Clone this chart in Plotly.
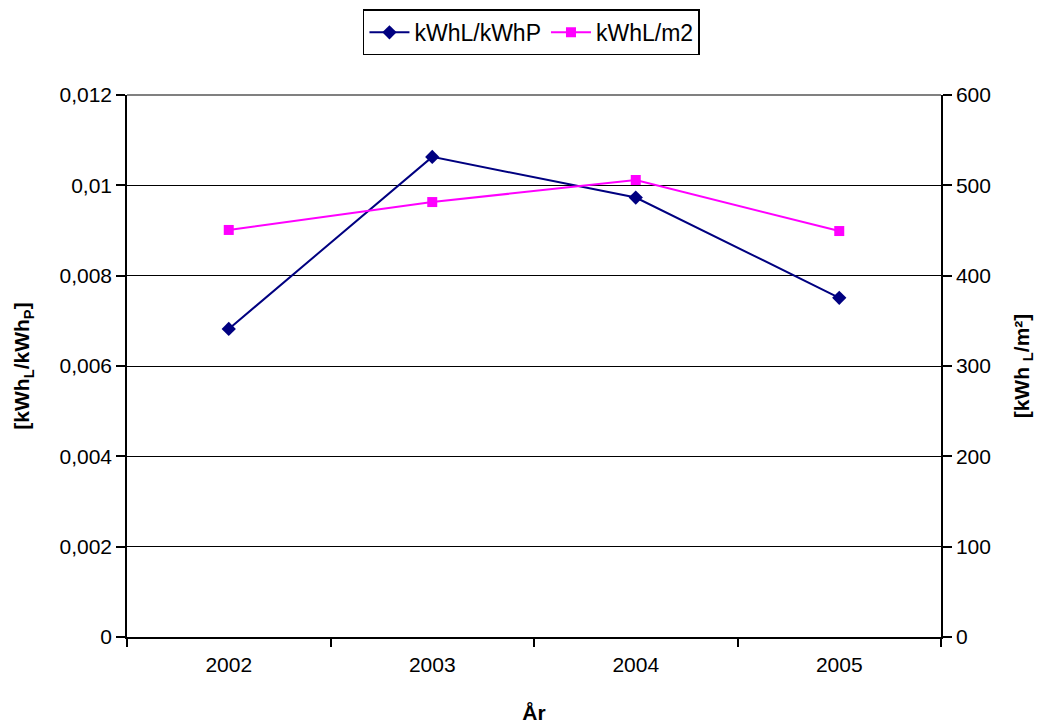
import plotly.graph_objects as go

years = ["2002", "2003", "2004", "2005"]
kwhl_kwhp = [0.00682, 0.01063, 0.00973, 0.00751]
kwhl_m2 = [450.6, 481.5, 505.9, 449.4]

left_ticks = [0, 0.002, 0.004, 0.006, 0.008, 0.010, 0.012]
left_labels = ["0", "0,002", "0,004", "0,006", "0,008", "0,01", "0,012"]
right_ticks = [0, 100, 200, 300, 400, 500, 600]

FS = 21
fig = go.Figure()
fig.add_trace(go.Scatter(
    x=years, y=kwhl_kwhp, name="kWhL/kWhP", mode="lines+markers",
    line=dict(color="#000080", width=2),
    marker=dict(symbol="diamond", size=11, color="#000080"),
    yaxis="y"))
fig.add_trace(go.Scatter(
    x=years, y=kwhl_m2, name="kWhL/m2", mode="lines+markers",
    line=dict(color="#FF00FF", width=2),
    marker=dict(symbol="square", size=10, color="#FF00FF"),
    yaxis="y2"))

font = dict(family="Arial, 'Liberation Sans', sans-serif", size=FS, color="black")

fig.update_layout(
    width=1038, height=724,
    margin=dict(l=127, r=97, t=95, b=87),
    paper_bgcolor="white", plot_bgcolor="white",
    font=font,
    showlegend=True,
    legend=dict(orientation="h", x=0.512, xanchor="center", y=0.987, yanchor="top",
                yref="container", xref="container", bordercolor="black", borderwidth=1.5,
                font=dict(size=23), bgcolor="white", itemwidth=40,
                tracegroupgap=0),
    xaxis=dict(type="category", tickson="boundaries", ticks="outside", ticklen=8,
               tickwidth=1.5, tickcolor="black", showline=True, linecolor="black",
               linewidth=1.5, showgrid=False, range=[-0.5, 3.5],
               tickfont=dict(size=FS), automargin=False, ticklabelstandoff=8,
               title=dict(text="<b>År</b>", font=dict(size=FS), standoff=30)),
    yaxis=dict(range=[0, 0.012], tickvals=left_ticks, ticktext=left_labels,
               ticks="outside", ticklen=9, tickwidth=1.5, tickcolor="black",
               showline=True, linecolor="black", linewidth=1.5, showgrid=True,
               gridcolor="black", gridwidth=1.3, zeroline=False,
               tickfont=dict(size=FS), automargin=False,
               title=dict(text="<b>[kWh<sub>L</sub>/kWh<sub>P</sub>]</b>",
                          font=dict(size=FS), standoff=24)),
    yaxis2=dict(range=[0, 600], tickvals=right_ticks, overlaying="y", side="right",
                ticks="outside", ticklen=9, tickwidth=1.5, tickcolor="black",
                showline=True, linecolor="black", linewidth=1.5, showgrid=False,
                zeroline=False, tickfont=dict(size=FS), automargin=False,
                title=dict(text="<b>[kWh <sub>L</sub>/m²]</b>", font=dict(size=FS),
                           standoff=24)),
    shapes=[dict(type="line", xref="paper", yref="paper", x0=0, x1=1, y0=1, y1=1,
                 line=dict(color="#808080", width=2), layer="above")],
)

fig.write_html("out.html")
